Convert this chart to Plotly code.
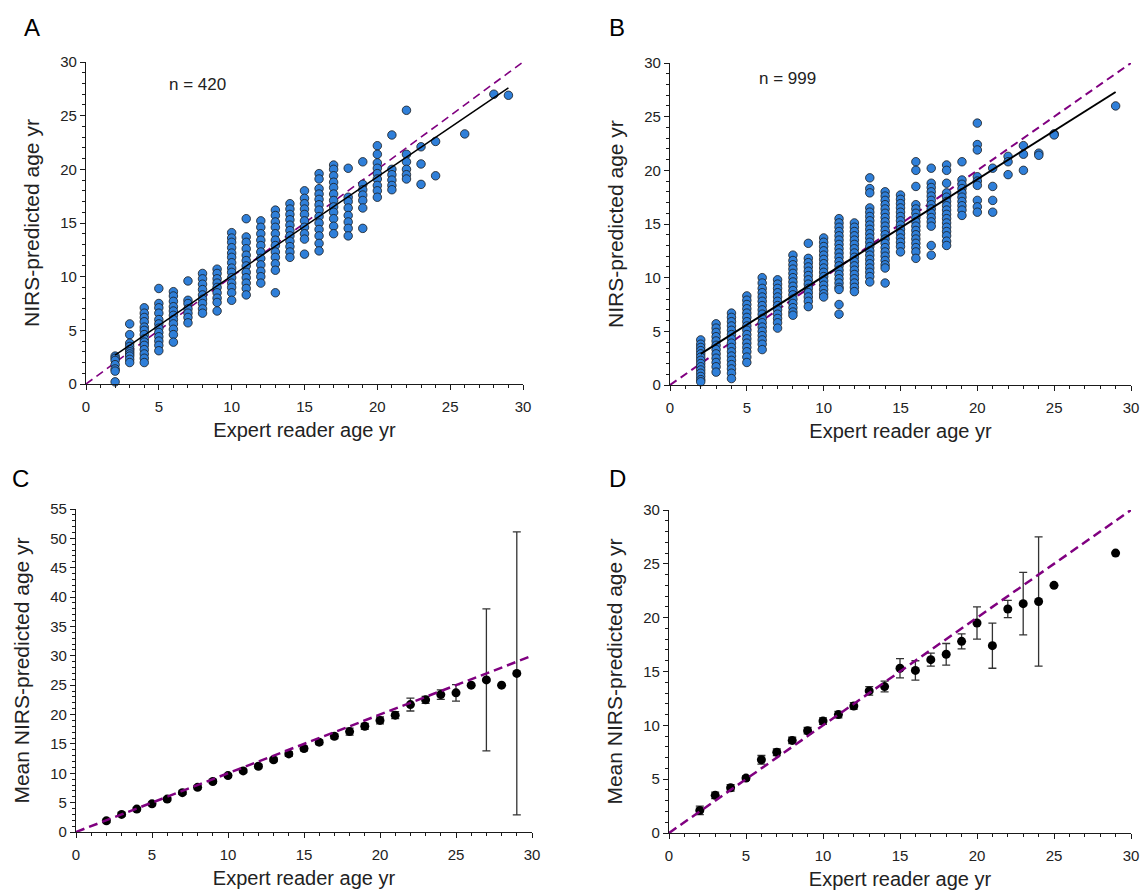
import plotly.graph_objects as go

# ---- panel A : individual predictions (n = 420) ----
ages_a = [2, 3, 4, 5, 6, 7, 8, 9, 10, 11, 12, 13, 14, 15, 16, 17, 18, 19, 20, 21, 22, 23, 24, 26, 28, 29]
pred_a = [
    [2.6, 2.4, 2.2, 1.8, 1.4, 1.2, 0.2],
    [5.6, 4.6, 3.8, 3.5, 3.2, 3.0, 2.8, 2.6, 2.3, 2.0],
    [7.1, 6.6, 6.2, 5.8, 5.3, 5.0, 4.6, 4.2, 3.9, 3.6, 3.2, 2.8, 2.4, 2.0],
    [8.9, 7.5, 7.1, 6.6, 6.0, 5.6, 5.2, 4.8, 4.4, 4.0, 3.6, 3.1],
    [8.6, 8.2, 7.7, 7.2, 6.8, 6.4, 6.0, 5.6, 5.1, 4.6, 3.9],
    [9.6, 7.8, 7.5, 7.0, 6.6, 6.2, 5.7],
    [10.3, 9.8, 9.3, 8.8, 8.3, 7.9, 7.5, 7.0, 6.6],
    [10.7, 10.3, 9.8, 9.4, 9.0, 8.5, 8.0, 7.6, 6.8],
    [14.1, 13.6, 13.2, 12.7, 12.2, 11.8, 11.3, 10.8, 10.4, 9.9, 9.4, 9.0, 8.5, 7.8],
    [15.4, 13.7, 13.2, 12.6, 12.0, 11.5, 11.0, 10.4, 9.9, 9.4, 8.9, 8.3],
    [15.2, 14.6, 14.0, 13.4, 12.9, 12.3, 11.7, 11.1, 10.5, 10.0, 9.4],
    [16.2, 15.7, 15.1, 14.6, 14.0, 13.4, 12.9, 12.3, 11.8, 11.2, 10.6, 8.5],
    [16.8, 16.3, 15.8, 15.3, 14.8, 14.3, 13.8, 13.3, 12.8, 12.3, 11.8],
    [18.0, 17.3, 16.8, 16.3, 15.8, 15.2, 14.6, 14.0, 13.5, 12.1],
    [19.6, 19.1, 18.2, 17.7, 17.2, 16.7, 16.2, 15.6, 15.0, 14.4, 13.8, 13.1, 12.4],
    [20.4, 20.0, 19.4, 18.8, 18.3, 17.7, 17.1, 16.5, 16.0, 15.4, 14.7, 14.0],
    [20.1, 17.4, 17.0, 16.4, 15.7, 15.1, 14.5, 13.8],
    [20.7, 18.6, 18.1, 17.6, 17.1, 16.4, 14.5],
    [22.2, 21.4, 20.6, 20.1, 19.6, 19.1, 18.5, 18.0, 17.4],
    [23.2, 20.0, 19.5, 19.0, 18.5, 18.1],
    [25.5, 21.4, 20.7, 20.0, 19.5, 19.1],
    [22.1, 20.5, 18.6],
    [22.6, 19.4],
    [23.3],
    [27.0],
    [26.9],
]
fit_x_a = [2, 29]
fit_y_a = [2.7, 27.6]

# ---- panel B : individual predictions (n = 999) ----
ages_b = [2, 3, 4, 5, 6, 7, 8, 9, 10, 11, 12, 13, 14, 15, 16, 17, 18, 19, 20, 21, 22, 23, 24, 25, 29]
pred_b = [
    [4.2, 3.8, 3.5, 3.2, 2.9, 2.6, 2.3, 2.0, 1.7, 1.4, 1.1, 0.8, 0.5, 0.3],
    [5.7, 5.3, 4.9, 4.5, 4.1, 3.7, 3.3, 2.9, 2.5, 2.1, 1.7, 1.2],
    [6.7, 6.3, 5.9, 5.5, 5.1, 4.7, 4.3, 3.9, 3.5, 3.1, 2.7, 2.3, 1.9, 1.5, 1.1, 0.6],
    [8.3, 7.9, 7.5, 7.1, 6.7, 6.3, 5.9, 5.5, 5.1, 4.7, 4.3, 3.9, 3.5, 3.1, 2.6, 2.1],
    [10.0, 9.5, 9.0, 8.6, 8.2, 7.8, 7.4, 7.0, 6.6, 6.2, 5.8, 5.4, 5.0, 4.6, 4.2, 3.8, 3.3],
    [9.8, 9.4, 9.0, 8.6, 8.2, 7.8, 7.4, 7.0, 6.6, 6.2, 5.8, 5.3],
    [12.1, 11.6, 11.2, 10.8, 10.4, 10.0, 9.6, 9.2, 8.8, 8.4, 8.0, 7.6, 7.2, 6.8, 6.5],
    [13.2, 11.8, 11.4, 11.0, 10.6, 10.2, 9.8, 9.4, 9.0, 8.6, 8.2, 7.8, 7.3],
    [13.7, 13.3, 12.9, 12.5, 12.1, 11.7, 11.3, 10.9, 10.5, 10.1, 9.7, 9.3, 8.9, 8.5, 8.2],
    [15.5, 15.1, 14.7, 14.3, 13.9, 13.5, 13.1, 12.7, 12.3, 11.9, 11.5, 11.1, 10.7, 10.3, 9.9, 9.5, 9.1, 8.9, 7.5, 6.6],
    [15.1, 14.7, 14.3, 13.9, 13.5, 13.1, 12.7, 12.3, 11.9, 11.5, 11.1, 10.7, 10.3, 9.9, 9.5, 9.1, 8.7],
    [19.3, 18.3, 17.9, 16.5, 16.1, 15.7, 15.3, 14.9, 14.5, 14.1, 13.7, 13.3, 12.9, 12.5, 12.1, 11.7, 11.3, 10.9, 10.5, 10.1, 9.6],
    [18.0, 17.6, 17.2, 16.8, 16.4, 16.0, 15.6, 15.2, 14.8, 14.4, 14.0, 13.6, 13.2, 12.8, 12.4, 12.0, 11.6, 11.2, 10.9, 9.5],
    [17.7, 17.3, 16.9, 16.5, 16.1, 15.7, 15.3, 14.9, 14.5, 14.1, 13.7, 13.3, 12.9, 12.4],
    [20.8, 20.0, 18.5, 16.8, 16.4, 16.0, 15.6, 15.2, 14.8, 14.4, 14.0, 13.6, 13.2, 12.8, 12.4, 11.8],
    [20.2, 18.8, 18.4, 18.0, 17.6, 17.2, 16.8, 16.4, 16.0, 15.6, 15.2, 14.8, 13.0, 12.1],
    [20.5, 20.0, 18.8, 17.9, 17.5, 17.1, 16.7, 16.3, 15.9, 15.5, 15.1, 14.7, 14.3, 13.9, 13.4, 13.0],
    [20.8, 19.1, 18.7, 18.3, 17.9, 17.5, 17.1, 16.7, 16.3, 15.8],
    [24.4, 22.4, 21.9, 19.4, 19.0, 18.6, 17.2, 16.6, 16.1],
    [20.2, 18.5, 17.2, 16.1],
    [21.3, 20.8, 19.6],
    [22.3, 21.5, 20.0],
    [21.6, 21.4],
    [23.4, 23.3],
    [26.0],
]
fit_x_b = [2, 29]
fit_y_b = [2.9, 27.3]

# ---- panel C : mean +/- CI (n = 420) ----
ages_c = [2, 3, 4, 5, 6, 7, 8, 9, 10, 11, 12, 13, 14, 15, 16, 17, 18, 19, 20, 21, 22, 23, 24, 25, 26, 27, 28, 29]
mean_c = [1.9, 3.0, 3.9, 4.8, 5.6, 6.7, 7.6, 8.6, 9.6, 10.4, 11.2, 12.3, 13.3, 14.2,
          15.3, 16.3, 17.1, 18.0, 19.0, 19.9, 21.7, 22.5, 23.4, 23.7, 25.0, 25.9, 25.0, 27.0]
err_c = [0.3, 0.3, 0.3, 0.3, 0.3, 0.3, 0.3, 0.3, 0.3, 0.3, 0.3, 0.3, 0.4, 0.4,
         0.4, 0.4, 0.6, 0.5, 0.6, 0.6, 1.1, 0.6, 0.8, 1.4, 0, 12.1, 0, 24.1]

# ---- panel D : mean +/- CI (n = 999) ----
ages_d = [2, 3, 4, 5, 6, 7, 8, 9, 10, 11, 12, 13, 14, 15, 16, 17, 18, 19, 20, 21, 22, 23, 24, 25, 29]
mean_d = [2.1, 3.5, 4.2, 5.1, 6.8, 7.5, 8.6, 9.5, 10.4, 11.0, 11.8, 13.2, 13.6, 15.3,
          15.1, 16.1, 16.6, 17.8, 19.5, 17.4, 20.8, 21.3, 21.5, 23.0, 26.0]
err_d = [0.4, 0.3, 0.3, 0.2, 0.4, 0.3, 0.3, 0.3, 0.3, 0.3, 0.3, 0.4, 0.5, 0.9,
         0.9, 0.6, 1.0, 0.7, 1.5, 2.1, 0.8, 2.9, 6.0, 0, 0]

one_to_one = [0, 30]

W, H = 1140, 895
PURPLE = "#800080"
BLUE = "#2f7fd9"
FONT = "Liberation Sans, Arial, sans-serif"


def flat(ages, preds):
    xs, ys = [], []
    for a, vals in zip(ages, preds):
        for v in vals:
            xs.append(a)
            ys.append(v)
    return xs, ys


fig = go.Figure()

# pixel boxes of each plot area: left, right, top, bottom
boxes = {
    "": (86, 523, 62, 384),
    "2": (670, 1131, 63, 385),
    "3": (76, 532, 509, 832),
    "4": (669, 1131, 510, 833),
}

for key, (ages, preds, fx, fy) in {"": (ages_a, pred_a, fit_x_a, fit_y_a),
                                   "2": (ages_b, pred_b, fit_x_b, fit_y_b)}.items():
    xs, ys = flat(ages, preds)
    fig.add_trace(go.Scatter(x=one_to_one, y=one_to_one, mode="lines",
                             line=dict(color=PURPLE, width=2 if key else 1.6, dash="8px,5px"),
                             xaxis="x" + key, yaxis="y" + key, showlegend=False))
    fig.add_trace(go.Scatter(x=xs, y=ys, mode="markers",
                             marker=dict(size=8.5, color=BLUE, line=dict(color="#1a1a1a", width=0.8)),
                             xaxis="x" + key, yaxis="y" + key, showlegend=False, cliponaxis=False))
    fig.add_trace(go.Scatter(x=fx, y=fy, mode="lines",
                             line=dict(color="black", width=2 if key else 1.5),
                             xaxis="x" + key, yaxis="y" + key, showlegend=False))

for key, (ages, means, errs) in {"3": (ages_c, mean_c, err_c), "4": (ages_d, mean_d, err_d)}.items():
    fig.add_trace(go.Scatter(x=ages, y=means, mode="markers",
                             marker=dict(size=9, color="black"),
                             error_y=dict(type="data", array=errs, color="#333333", thickness=1.3, width=4),
                             xaxis="x" + key, yaxis="y" + key, showlegend=False, cliponaxis=False))
    fig.add_trace(go.Scatter(x=one_to_one, y=one_to_one, mode="lines",
                             line=dict(color=PURPLE, width=2.5, dash="9px,5px"),
                             xaxis="x" + key, yaxis="y" + key, showlegend=False))

ytitles = {"": "NIRS-predicted age yr", "2": "NIRS-predicted age yr",
           "3": "Mean NIRS-predicted age yr", "4": "Mean NIRS-predicted age yr"}
yranges = {"": 30, "2": 30, "3": 55, "4": 30}

axis_common = dict(showgrid=False, zeroline=False, showline=True, linecolor="#1a1a1a", linewidth=1.2,
                   ticks="outside", ticklen=5, tickcolor="#1a1a1a",
                   tickfont=dict(family=FONT, size=15, color="#222222"),
                   minor=dict(dtick=1, ticks="outside", ticklen=3, tickcolor="#1a1a1a"),
                   dtick=5, tick0=0, fixedrange=True)

for key, (l, r, t, b) in boxes.items():
    fig.update_layout(**{
        "xaxis" + key: dict(axis_common, domain=[l / W, r / W], range=[0, 30],
                            anchor="y" + key, ticklabelstandoff=4,
                            title=dict(text="Expert reader age yr", standoff=8,
                                       font=dict(family=FONT, size=20, color="#222222"))),
        "yaxis" + key: dict(axis_common, domain=[1 - b / H, 1 - t / H], range=[0, yranges[key]],
                            anchor="x" + key,
                            title=dict(text=ytitles[key], standoff=14,
                                       font=dict(family=FONT, size=21, color="#222222"))),
    })

annotations = []
for letter, px, py in [("A", 32, 27), ("B", 617, 27), ("C", 20, 478), ("D", 617, 478)]:
    annotations.append(dict(text=letter, x=px / W, y=1 - py / H, xref="paper", yref="paper",
                            showarrow=False, xanchor="center", yanchor="middle",
                            font=dict(family=FONT, size=24, color="black")))
for txt, px, py in [("n = 420", 197, 84), ("n = 999", 787, 78)]:
    annotations.append(dict(text=txt, x=px / W, y=1 - py / H, xref="paper", yref="paper",
                            showarrow=False, xanchor="center", yanchor="middle",
                            font=dict(family=FONT, size=17, color="#222222")))

fig.update_layout(template="none", width=W, height=H, margin=dict(l=0, r=0, t=0, b=0),
                  paper_bgcolor="white", plot_bgcolor="white", annotations=annotations,
                  font=dict(family=FONT))

fig.write_html("out.html", config={"displayModeBar": False},
               post_script="document.body.style.margin='0';")
